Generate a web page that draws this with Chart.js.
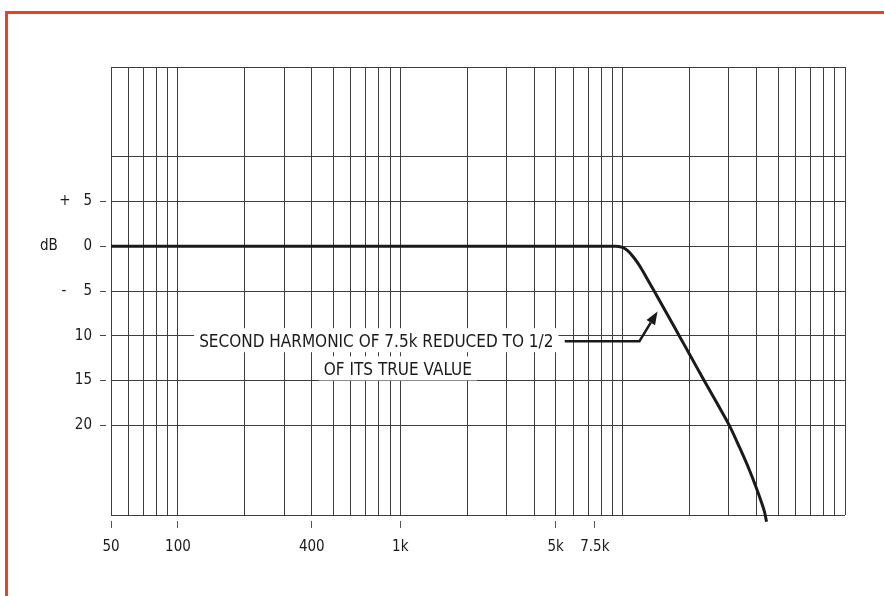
<!DOCTYPE html>
<html>
<head>
<meta charset="utf-8">
<script src="https://cdn.jsdelivr.net/npm/chart.js@4.4.1/dist/chart.umd.min.js"></script>
<style>
  html, body { margin: 0; padding: 0; background: #ffffff; }
  #wrap { position: relative; width: 884px; height: 596px; overflow: hidden; background: #fff; }
  #frame { position: absolute; left: 5px; top: 11px; width: 920px; height: 640px;
           border-left: 3px solid #e8432a; border-top: 3px solid #e8432a; pointer-events: none; }
  canvas { position: absolute; left: 0; top: 0; }
</style>
</head>
<body>
<div id="wrap">
  <canvas id="c" width="884" height="596"></canvas>
  <div id="frame"></div>
</div>
<script>
// ---- data ----
const freqHz  = [50, 100, 400, 1000, 5000, 9300, 9900, 10530, 11200, 11920, 12810, 13920, 15910, 18010, 20400, 23080, 26390, 30180, 33470, 37110, 39900, 42010, 43550, 44370];
const levelDb = [0,  0,   0,   0,    0,    0,    -0.11, -0.5, -1.23, -2.18, -3.52, -5.09, -7.64, -10.04, -12.45, -14.85, -17.4, -20.0, -22.4, -24.95, -26.96, -28.52, -29.75, -30.76];

// x grid lines (log chart paper) and labelled x ticks
const xGridHz   = [50, 60, 70, 80, 90, 100, 200, 300, 400, 500, 600, 700, 800, 900,
                   1000, 2000, 3000, 4000, 5000, 6000, 7000, 8000, 9000,
                   10000, 20000, 30000, 40000, 50000, 60000, 70000, 80000, 90000, 100000];
const xLabelHz  = [50, 100, 400, 1000, 5000, 7500];
const xLabelTxt = ['50', '100', '400', '1k', '5k', '7.5k'];

// y grid lines and labelled y ticks
const yGridDb   = [-30, -20, -15, -10, -5, 0, 5, 10, 20];
const yLabelDb  = [-20, -15, -10, -5, 0, 5];
const yLabelTxt = ['20', '15', '10', '-    5', 'dB      0', '+   5'];

// annotation
const noteLines = ['SECOND HARMONIC OF 7.5k REDUCED TO 1/2', 'OF ITS TRUE VALUE'];
const noteHz    = [780, 975];
const noteDb    = [-10.6, -13.75];
const leaderHz  = [5490, 11900, 14350];
const leaderDb  = [-10.6, -10.6, -7.3];

const FONT = '"Liberation Sans Narrow", "DejaVu Sans Condensed", "Arial Narrow", sans-serif';
const GRID = '#3e3e3e';
const INK  = '#1a1a1a';

const notePlugin = {
  id: 'note',
  afterDatasetsDraw(chart) {
    const { ctx } = chart;
    const x = chart.scales.x, y = chart.scales.y;
    ctx.save();
    ctx.font = '17px ' + FONT;
    ctx.textAlign = 'center';
    ctx.textBaseline = 'middle';
    noteLines.forEach((t, i) => {
      const cx = x.getPixelForValue(noteHz[i]);
      const cy = y.getPixelForValue(noteDb[i]);
      const w = ctx.measureText(t).width;
      ctx.fillStyle = '#ffffff';
      ctx.fillRect(cx - w / 2 - 5, cy - 13, w + 10, 24);
      ctx.fillStyle = INK;
      ctx.fillText(t, cx, cy + 1);
    });
    // leader with arrow
    const pts = leaderHz.map((f, i) => [x.getPixelForValue(f), y.getPixelForValue(leaderDb[i])]);
    const [p0, p1, p2] = pts;
    const ang = Math.atan2(p2[1] - p1[1], p2[0] - p1[0]);
    const L = 13, W = 5;
    const base = [p2[0] - L * Math.cos(ang), p2[1] - L * Math.sin(ang)];
    ctx.strokeStyle = INK;
    ctx.lineWidth = 2.5;
    ctx.lineJoin = 'miter';
    ctx.beginPath();
    ctx.moveTo(p0[0], p0[1]);
    ctx.lineTo(p1[0], p1[1]);
    ctx.lineTo(base[0], base[1]);
    ctx.stroke();
    ctx.fillStyle = INK;
    ctx.beginPath();
    ctx.moveTo(p2[0], p2[1]);
    ctx.lineTo(base[0] + W * Math.sin(ang), base[1] - W * Math.cos(ang));
    ctx.lineTo(base[0] - W * Math.sin(ang), base[1] + W * Math.cos(ang));
    ctx.closePath();
    ctx.fill();
    ctx.restore();
  }
};

const setTicks = (vals) => (axis) => { axis.ticks = vals.map(v => ({ value: v })); };

new Chart(document.getElementById('c'), {
  type: 'line',
  data: {
    datasets: [{
      data: freqHz.map((f, i) => ({ x: f, y: levelDb[i] })),
      borderColor: INK,
      borderWidth: 3,
      pointRadius: 0,
      cubicInterpolationMode: 'monotone',
      clip: false,
      fill: false
    }]
  },
  options: {
    responsive: false,
    animation: false,
    devicePixelRatio: 1,
    layout: { padding: { top: 67, right: 39, bottom: 0, left: 0 } },
    plugins: { legend: { display: false }, tooltip: { enabled: false } },
    scales: {
      x: {
        type: 'logarithmic', position: 'bottom', weight: 0,
        min: 50, max: 100000,
        afterBuildTicks: setTicks(xGridHz),
        afterFit: (s) => { s.height = 6; },
        ticks: { display: false },
        grid: { color: GRID, lineWidth: 1, drawTicks: true, tickLength: 6, tickColor: 'rgba(0,0,0,0)' },
        border: { display: false }
      },
      x2: {
        type: 'logarithmic', position: 'bottom', weight: 1,
        min: 50, max: 100000,
        afterBuildTicks: setTicks(xLabelHz),
        afterFit: (s) => { s.height = 75; },
        ticks: {
          autoSkip: false, maxRotation: 0, padding: 10, color: INK,
          font: { family: FONT, size: 15 },
          callback: (v) => { const k = xLabelHz.indexOf(v); return k >= 0 ? xLabelTxt[k] : ''; }
        },
        grid: { drawOnChartArea: false, drawTicks: true, tickLength: 7, tickColor: '#555', lineWidth: 1 },
        border: { display: false }
      },
      y: {
        type: 'linear', position: 'left', weight: 0,
        min: -30, max: 20,
        afterBuildTicks: setTicks(yGridDb),
        afterFit: (s) => { s.width = 5; },
        ticks: { display: false },
        grid: { color: GRID, lineWidth: 1, drawTicks: true, tickLength: 5, tickColor: 'rgba(0,0,0,0)' },
        border: { display: false }
      },
      y2: {
        type: 'linear', position: 'left', weight: 1,
        min: -30, max: 20,
        afterBuildTicks: setTicks(yLabelDb),
        afterFit: (s) => { s.width = 106; },
        ticks: {
          autoSkip: false, padding: 8, color: INK,
          font: { family: FONT, size: 15 },
          callback: (v) => { const k = yLabelDb.indexOf(v); return k >= 0 ? yLabelTxt[k] : ''; }
        },
        grid: { drawOnChartArea: false, drawTicks: true, tickLength: 6, tickColor: '#444', lineWidth: 1 },
        border: { display: false }
      }
    }
  },
  plugins: [notePlugin]
});
</script>
</body>
</html>
